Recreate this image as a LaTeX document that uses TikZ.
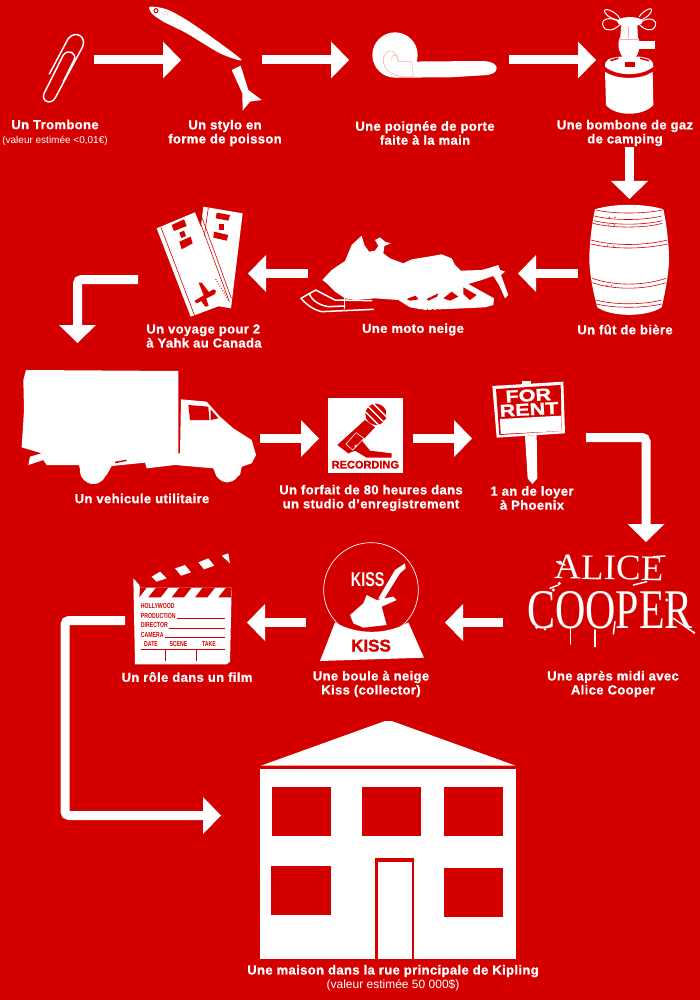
\documentclass[tikz,border=0pt]{standalone}
\usepackage{fontspec}
\setmainfont{Liberation Sans}
\newfontfamily\etiqfont{Liberation Sans}[LetterSpace=3,FakeBold=1]
\newfontfamily\panneaufont{Liberation Sans}[FakeStretch=1.27,FakeBold=1.5]
\newfontfamily\noirfont{Liberation Sans}[FakeBold=1.5]
\newfontfamily\claptxt{Liberation Sans}[FakeStretch=0.72]
\newfontfamily\griffea{Liberation Serif}[FakeStretch=1.03]
\newfontfamily\griffeb{Liberation Serif}[FakeStretch=0.75]
\newfontfamily\valeurfam{Liberation Sans}
\newcommand{\valeurfont}{\valeurfam\mdseries\fontsize{10}{14}\selectfont}
\newcommand{\grandvaleurfont}{\valeurfam\mdseries\fontsize{12}{14}\selectfont}
\usetikzlibrary{arrows.meta}
\definecolor{rouge}{RGB}{212,0,0}
\definecolor{rose}{RGB}{245,170,170}

\tikzset{
  etape/.style={inner sep=0pt, outer sep=0pt},
  fleche/.style={draw=white, line width=9pt, rounded corners=4pt,
    -{Triangle[length=18pt,width=37pt,line width=0pt]}},
  etiquette/.style={text=white, align=center, inner sep=0pt,
    font=\etiqfont\bfseries\fontsize{13}{14}\selectfont},
  zoomtrois/.style={shift={(#1)}, scale=1/3},
  fil/.style={draw=white, line width=1.5pt, line cap=round, line join=round},
  filrouge/.style={draw=rouge, line width=0.6pt},
  filrose/.style={draw=rose, line width=0.5pt},
  texteclap/.style={text=rouge, inner sep=0pt, anchor=west, font=\claptxt\bfseries\fontsize{7.2}{8}\selectfont},
}

\begin{document}
\begin{tikzpicture}[x=1pt, y=-1pt]

\fill[rouge] (0,0) rectangle (700,1000);
\useasboundingbox (0,0) rectangle (700,1000);

% les etapes
\node[etape, minimum width=64pt, minimum height=100pt] (trombone) at (62,60) {};
\node[etape, minimum width=81pt, minimum height=100pt] (stylo) at (221.5,60) {};
\node[etape, minimum width=160pt, minimum height=100pt] (poignee) at (429,60) {};
\node[etape, minimum width=67pt, minimum height=147pt] (bombone) at (629.5,73.5) {};
\node[etape, minimum width=103pt, minimum height=149pt] (fut) at (629.5,273.5) {};
\node[etape, minimum width=210pt, minimum height=80pt] (moto) at (413,273.5) {};
\node[etape, minimum width=110pt, minimum height=100pt] (voyage) at (193,279.5) {};
\node[etape, minimum width=240pt, minimum height=191pt] (camion) at (140,438.5) {};
\node[etape, minimum width=94pt, minimum height=75pt] (recording) at (366,438.5) {};
\node[etape, minimum width=114pt, minimum height=100pt] (loyer) at (529,437.5) {};
\node[etape, minimum width=190pt, minimum height=161pt] (alice) at (598,622.5) {};
\node[etape, minimum width=139pt, minimum height=100pt] (boule) at (375.5,622.5) {};
\node[etape, minimum width=122pt, minimum height=100pt] (clap) at (186,620.5) {};
\node[etape, minimum width=296pt, minimum height=200pt] (maison) at (369,815.5) {};

% les fleches
\draw[fleche] (trombone.east) -- (stylo.west);
\draw[fleche] (stylo.east) -- (poignee.west);
\draw[fleche] (poignee.east) -- (poignee.east -| bombone.west);
\draw[fleche] (bombone.south) -- (fut.north);
\draw[fleche] (fut.west) -- (moto.east);
\draw[fleche] (moto.west) -- (moto.west -| voyage.east);
\draw[fleche] (voyage.west) -| ([xshift=-62.5pt]camion.north);
\draw[fleche] (camion.east) -- (recording.west);
\draw[fleche] (recording.east) -- (recording.east -| loyer.west);
\draw[fleche] (loyer.east) -| ([xshift=48pt]alice.north);
\draw[fleche] (alice.west) -- (boule.east);
\draw[fleche] (boule.west) -- (boule.west -| clap.east);
\draw[fleche] (clap.west) -- ++(-60,0) |- (maison.west);

% trombone
\begin{scope}[zoomtrois={0,0}]
  \draw[fil] (148,222) -- (205,115) .. controls (228,90) and (260,110) .. (248,140)
    -- (165,295) .. controls (150,318) and (118,300) .. (135,275)
    -- (190,165) .. controls (205,145) and (232,160) .. (222,180) -- (190,245);
\end{scope}

% stylo poisson
\begin{scope}[zoomtrois={0,0}]
  \fill[white] plot[smooth cycle, tension=0.5] coordinates {(450,20) (500,28) (560,60) (640,115) (725,180) (660,160) (560,100) (490,65) (455,40)};
  \draw[rouge, line width=1pt] (468,32) circle (6);
  \draw[filrose] (485,35) -- (495,50) (495,32) -- (503,47);
  \fill[white] (695,210) -- (722,197) -- (745,270) -- (785,300) -- (750,305) -- (728,332) -- (727,280) -- cycle;
\end{scope}

% poignee
\begin{scope}[zoomtrois={350,0}]
  \fill[white] (135,165) circle (68);
  \fill[white] (150,185) -- (400,183) .. controls (430,185) and (440,195) .. (440,205)
    .. controls (440,218) and (425,225) .. (400,226) -- (300,232) -- (135,233) -- cycle;
  \draw[filrose] (145,185) .. controls (145,155) and (110,135) .. (100,175)
    .. controls (95,215) and (140,235) .. (188,230);
  \draw[filrose] (145,185) -- (185,185) -- (190,230);
  \draw[filrose] (125,180) .. controls (125,160) and (140,155) .. (145,185);
\end{scope}

% bombone de gaz
\begin{scope}[zoomtrois={600,0}]
  \fill[white] (15,215) .. controls (50,240) and (125,240) .. (158,215) -- (160,315)
    .. controls (130,350) and (45,350) .. (18,315) -- cycle;
  \fill[white] (15,200) .. controls (15,178) and (25,175) .. (60,170) -- (120,170)
    .. controls (150,175) and (160,180) .. (160,200) .. controls (125,230) and (50,230) .. (15,200) -- cycle;
  \fill[rouge] (75,185) rectangle (105,200);
  \fill[rouge] (30,180) -- (55,172) -- (55,177) -- (33,184) -- cycle;
  \fill[rouge] (120,172) -- (148,180) -- (146,184) -- (120,177) -- cycle;
  \fill[white] (60,112) -- (114,112) .. controls (124,135) and (118,155) .. (104,178) -- (72,178)
    .. controls (56,155) and (50,135) .. (60,112) -- cycle;
  \fill[white] (115,122) rectangle (166,147);
  \fill[white] (64,75) -- (112,75) -- (114,118) -- (60,118) -- cycle;
  \draw[filrose] (60,118) -- (114,118) (85,80) -- (85,115);
  \fill[white] (90,65) ellipse (38 and 14);
  \draw[fil, line width=1pt] (58,66) .. controls (25,45) and (0,60) .. (10,80) .. controls (20,98) and (45,90) .. (62,72);
  \draw[fil, line width=1pt] (60,56) .. controls (45,30) and (5,20) .. (15,38) .. controls (22,52) and (40,56) .. (58,62);
  \draw[fil, line width=1pt] (118,50) .. controls (130,30) and (165,15) .. (152,38) .. controls (145,50) and (130,58) .. (120,60);
  \draw[fil, line width=1pt] (122,66) .. controls (150,48) and (175,60) .. (165,80) .. controls (155,98) and (130,88) .. (116,72);
\end{scope}

% fut de biere
\begin{scope}[zoomtrois={350,190}]
  \fill[white] (735,58) .. controls (790,40) and (885,40) .. (940,58)
    .. controls (950,100) and (957,170) .. (957,205)
    .. controls (957,250) and (945,310) .. (935,352)
    .. controls (890,382) and (785,382) .. (742,352)
    .. controls (730,310) and (718,250) .. (718,205)
    .. controls (718,170) and (725,100) .. (735,58) -- cycle;
  \foreach \xa/\ya/\yb/\xb in {738/60/72/938, 733/78/92/935, 732/92/106/937, 728/100/115/937,
      723/150/168/953, 723/162/178/953, 727/265/288/948, 727/278/300/948, 738/330/345/935, 740/342/355/935}
    \draw[filrouge] (\xa,\ya) .. controls (790,\yb) and (880,\yb) .. (\xb,\ya);
  \foreach \xa/\ya in {778/82, 795/82, 777/105, 793/105, 773/168, 790/168, 770/287, 785/287}
    \fill[rouge] (\xa,\ya) circle (2.2);
\end{scope}

% moto neige
\begin{scope}[zoomtrois={295,230}]
  \fill[white] (82,150) -- (110,120) -- (150,93) -- (170,45) -- (200,17) -- (208,45) -- (222,65)
    -- (240,62) -- (250,48) -- (240,30) -- (255,22) -- (270,35) -- (287,40) -- (268,48) -- (265,70)
    -- (285,85) -- (325,100) -- (350,88) -- (400,80) -- (440,73) -- (470,85) -- (480,105) -- (497,122)
    -- (560,120) -- (585,113) -- (610,105) -- (615,120) -- (630,125) -- (618,135) -- (640,195) -- (630,205)
    -- (612,165) -- (595,138) -- (560,150) -- (520,162) -- (597,205) -- (595,225)
    -- (570,232) -- (390,240) -- (345,232) -- (310,210) -- (240,205) -- (180,210) -- (150,205) -- (120,185) -- (95,160) -- cycle;
  \fill[rouge] (335,207) -- (362,197) -- (370,208) -- (345,212) -- cycle;
  \fill[rouge] (395,207) -- (430,190) -- (426,200) -- (400,212) -- cycle;
  \fill[rouge] (445,205) -- (470,185) -- (490,200) -- (465,212) -- cycle;
  \fill[rouge] (505,172) -- (545,195) -- (525,210) -- (505,192) -- cycle;
  \foreach \d in {350,365,...,590}
    \fill[rouge] (\d,236) rectangle (\d+4,242);
  \draw[fil] (148,190) -- (148,235);
  \draw[fil] (18,205) -- (62,180) -- (120,210) -- (230,212);
  \draw[fil] (18,205) .. controls (40,230) and (60,240) .. (80,245) -- (235,238);
  \draw[fil] (42,190) .. controls (50,210) and (70,225) .. (100,230) -- (150,228);
\end{scope}

% billets
\begin{scope}[zoomtrois={150,200}]
  \fill[white] (160,20) -- (278,40) -- (243,325) -- (125,305) -- cycle;
  \draw[filrouge] (175,23) -- (150,200);
  \fill[rouge] (200,38) -- (240,45) -- (235,62) -- (197,55) -- cycle;
  \fill[rouge] (192,95) -- (235,105) -- (230,122) -- (190,113) -- cycle;
  \fill[rouge] (208,72) -- (222,72) -- (222,90) -- (208,90) -- cycle;
  \fill[white] (20,85) -- (135,37) -- (243,305) -- (122,350) -- cycle;
  \draw[filrouge] (33,82) -- (133,345);
  \draw[filrouge] (148,60) -- (238,305) (155,50) -- (244,295);
  \fill[rouge] (65,75) -- (102,58) -- (110,78) -- (72,93) -- cycle;
  \fill[rouge] (88,125) -- (122,110) -- (128,130) -- (95,148) -- cycle;
  \fill[rouge] (88,98) -- (102,92) -- (108,108) -- (94,114) -- cycle;
  \fill[rouge] (133,303) -- (190,268) -- (198,272) -- (195,282) -- (140,310) -- cycle;
  \fill[rouge] (146,248) -- (155,248) -- (178,278) -- (162,288) -- cycle;
  \fill[rouge] (150,298) -- (167,290) -- (176,318) -- (166,320) -- cycle;
  \draw[filrouge, dotted, line width=1.4pt] (197,238) -- (236,300);
\end{scope}

% camion
\begin{scope}[zoomtrois={0,360}]
  \fill[white] (78,30) -- (535,33) -- (535,280) -- (540,280) -- (543,118) -- (620,125) -- (660,170)
    -- (700,205) -- (755,240) -- (768,285) -- (755,310) -- (725,320) -- (720,345) -- (680,367) -- (650,350)
    -- (640,325) -- (525,315) -- (440,325) -- (435,308) -- (335,318) -- (320,345) -- (280,370) -- (245,350)
    -- (237,315) -- (140,315) -- (130,300) -- (85,315) -- (90,290) -- (125,280) -- (65,262) -- (72,150) -- (70,60) -- cycle;
  \fill[white] (280,332) circle (40);
  \fill[white] (682,330) circle (37);
  \draw[rouge, line width=0.8pt] (538,120) -- (538,278);
  \fill[rouge] (565,135) -- (625,140) -- (628,180) -- (570,180) -- cycle;
  \fill[rouge] (632,148) -- (655,175) -- (632,180) -- cycle;
  \fill[rouge] (345,305) -- (380,299) -- (380,303) -- (345,310) -- cycle;
\end{scope}

% micro
\begin{scope}[zoomtrois={270,370}]
  \fill[white] (174,84) rectangle (398,308);
  \fill[rouge] (285,150) -- (315,172) -- (250,240) -- (235,250) -- (202,225) -- cycle;
  \fill[rouge] (262,195) -- (300,242) -- (365,250) -- (365,263) -- (290,263) -- (255,242) -- (235,250) -- cycle;
  \draw[white, line width=0.6pt] (228,222) -- (258,188) -- (282,205) -- (248,240) -- cycle;
  \fill[white] (257,228) circle (4);
  \begin{scope}
    \clip (318,133) circle (32);
    \fill[rouge] (318,133) circle (32);
    \foreach \d in {-24,-12,...,24}
      \draw[white, line width=1.3pt] (285+\d,100-\d) -- (350+\d,165-\d);
  \end{scope}
  \node[text=rouge, inner sep=0pt, font=\noirfont\bfseries\fontsize{11}{12}\selectfont] (motrecording) at (286,284) {RECORDING};
\end{scope}

% panneau
\begin{scope}[zoomtrois={270,370}]
  \fill[white] (757,32) rectangle (782,42);
  \fill[white] (667,48) -- (880,35) -- (885,190) -- (680,203) -- cycle;
  \fill[rouge] (678,57) -- (872,45) -- (875,183) -- (688,195) -- cycle;
  \fill[white] (690,147) -- (873,137) -- (875,183) -- (692,192) -- cycle;
  \fill[white] (765,198) -- (800,195) -- (802,325) -- (787,342) -- (773,325) -- cycle;
  \node[text=white, inner sep=0pt, rotate=3, align=center, font=\panneaufont\bfseries\fontsize{17}{14}\selectfont] (motrent) at (776,97) {FOR\\RENT};
\end{scope}

% alice cooper
\begin{scope}[zoomtrois={500,540}]
  \node[text=white, inner sep=0pt, rotate=-1, font=\griffea\fontsize{36}{36}\selectfont] (motalice) at (327,84) {ALICE};
  \node[text=white, inner sep=0pt, font=\griffeb\fontsize{56}{56}\selectfont] (motcooper) at (330,212) {COOPER};
  \draw[fil] (212,265) -- (212,312);
  \draw[fil] (285,270) -- (285,320);
  \draw[fil] (345,245) -- (340,282);
  \draw[fil] (520,235) -- (582,278);
  \draw[fil] (175,135) -- (150,145);
  \draw[fil] (170,65) -- (195,75) (400,135) -- (440,125) (460,50) -- (495,48);
  \fill[white] (180,68) circle (6) (178,130) circle (5) (110,262) circle (5) (582,278) circle (4)
    (160,150) circle (5) (135,268) circle (4) (500,180) circle (5);
\end{scope}

% boule a neige
\begin{scope}[zoomtrois={100,535}]
  \draw[white, line width=0.7pt] (813,165) circle (142);
  \fill[white] (705,262) .. controls (770,300) and (860,300) .. (925,262) -- (972,368) -- (660,378) -- cycle;
  \fill[white] (750,240) -- (790,205) -- (800,180) -- (830,195) -- (880,185) -- (890,195) -- (845,215)
    -- (860,270) -- (790,278) -- (760,265) -- cycle;
  \fill[white] (835,190) -- (885,105) -- (915,85) -- (917,100) -- (900,115) -- (850,195) -- cycle;
  \node[text=white, inner sep=0pt, font=\claptxt\bfseries\fontsize{20}{20}\selectfont] (motkissa) at (803,133) {KISS};
  \node[text=rouge, inner sep=0pt, font=\noirfont\bfseries\fontsize{17}{17}\selectfont] (motkissb) at (813,332) {KISS};
\end{scope}

% clap de cinema
\begin{scope}[zoomtrois={100,535}]
  \fill[white] (100,130) -- (118,150) -- (120,158) -- (395,158) -- (390,380) -- (380,388) -- (105,388) -- cycle;
  \fill[rouge] (145,187) -- (168,158) -- (205,158) -- (182,187) -- cycle;
  \fill[rouge] (215,187) -- (238,158) -- (275,158) -- (252,187) -- cycle;
  \fill[rouge] (285,187) -- (308,158) -- (345,158) -- (322,187) -- cycle;
  \fill[rouge] (355,187) -- (378,158) -- (395,158) -- (393,187) -- cycle;
  \fill[rouge] (118,187) -- (140,158) -- (120,158) -- cycle;
  \fill[white] (155,125) -- (180,110) -- (200,130) -- (170,140) -- cycle;
  \fill[white] (225,100) -- (255,90) -- (273,112) -- (243,122) -- cycle;
  \fill[white] (295,82) -- (325,70) -- (343,92) -- (312,103) -- cycle;
  \fill[white] (365,62) -- (385,55) -- (390,85) -- cycle;
  \node[texteclap] (mothollywood) at (122,213) {HOLLYWOOD};
  \node[texteclap] (motproduction) at (122,242) {PRODUCTION};
  \node[texteclap] (motdirector) at (122,271) {DIRECTOR};
  \node[texteclap] (motcamera) at (122,300) {CAMERA};
  \node[texteclap] (motdate) at (132,328) {DATE};
  \node[texteclap] (motscene) at (208,328) {SCENE};
  \node[texteclap] (mottake) at (306,328) {TAKE};
  \draw[filrouge] (230,250) -- (375,250) (206,279) -- (375,279) (194,308) -- (375,308);
  \draw[filrouge] (122,342) -- (375,342) (195,342) -- (195,378) (288,342) -- (288,378);
\end{scope}

% maison
\begin{scope}[zoomtrois={200,710}]
  \fill[white] (183,167) -- (555,33) -- (575,33) -- (947,167) -- cycle;
  \fill[white] (180,177) rectangle (947,747);
  \fill[rouge] (216,231) rectangle (394,378);
  \fill[rouge] (485,231) rectangle (663,378);
  \fill[rouge] (731,231) rectangle (910,378);
  \fill[rouge] (213,468) rectangle (392,615);
  \fill[rouge] (731,474) rectangle (910,621);
  \fill[rouge] (525,443) rectangle (641,747);
  \fill[white] (533,455) rectangle (637,747);
\end{scope}

% les textes
\node[etiquette] (txttrombone) at (55,132.5) {Un Trombone\\{\valeurfont (valeur estimée <0,01€)}};
\node[etiquette] (txtstylo) at (225,133) {Un stylo en\\forme de poisson};
\node[etiquette] (txtpoignee) at (425,133) {Une poignée de porte\\faite à la main};
\node[etiquette] (txtbombone) at (625,133) {Une bombone de gaz\\de camping};
\node[etiquette, align=left] (txtvoyage) at (204,336) {Un voyage pour 2\\à Yahk au Canada};
\node[etiquette] (txtmoto) at (413,329.5) {Une moto neige};
\node[etiquette] (txtfut) at (625,329.5) {Un fût de bière};
\node[etiquette] (txtcamion) at (142,498.5) {Un vehicule utilitaire};
\node[etiquette] (txtforfait) at (371,498) {Un forfait de 80 heures dans\\un studio d’enregistrement};
\node[etiquette] (txtloyer) at (532,498) {1 an de loyer\\à Phoenix};
\node[etiquette] (txtalice) at (613,684) {Une après midi avec\\Alice Cooper};
\node[etiquette] (txtboule) at (371,684) {Une boule à neige\\Kiss (collector)};
\node[etiquette] (txtfilm) at (187,677) {Un rôle dans un film};
\node[etiquette] (txtmaison) at (393,978) {Une maison dans la rue principale de Kipling\\{\grandvaleurfont (valeur estimée 50 000\$)}};

\end{tikzpicture}
\end{document}
